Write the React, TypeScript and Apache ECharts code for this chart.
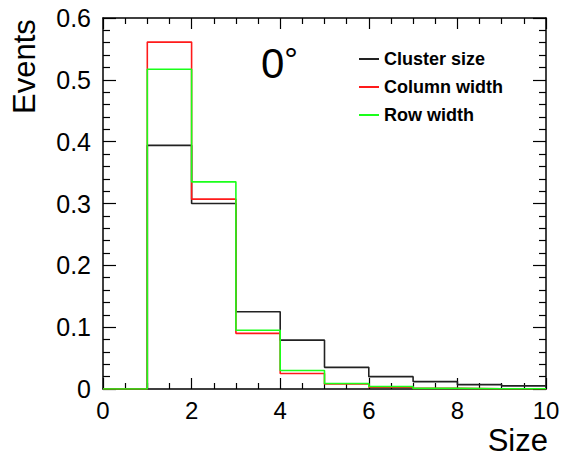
import React, { useEffect, useRef } from "react";
import * as echarts from "echarts";

// Bin edges (size) and normalised event fractions per bin
const binEdges = [0, 1, 2, 3, 4, 5, 6, 7, 8, 9, 10];
const clusterSize = [0, 0.394, 0.3, 0.125, 0.079, 0.035, 0.02, 0.012, 0.007, 0.005];
const columnWidth = [0, 0.561, 0.307, 0.09, 0.025, 0.008, 0.003, 0.001, 0.0005, 0.0003];
const rowWidth = [0, 0.517, 0.335, 0.095, 0.03, 0.009, 0.004, 0.001, 0.0005, 0.0003];

const seriesNames = ["Cluster size", "Column width", "Row width"];
const seriesColors = ["#222222", "#ff1a1a", "#1aff1a"];

const FONT = "Liberation Sans, Arial, Helvetica, sans-serif";

// Histogram outline: one point per bin low edge, plus the final upper edge
function toSteps(values: number[]): [number, number][] {
  const pts: [number, number][] = values.map((v, i) => [binEdges[i], v]);
  pts.push([binEdges[binEdges.length - 1], values[values.length - 1]]);
  return pts;
}

export default function App() {
  const ref = useRef<HTMLDivElement>(null);

  useEffect(() => {
    if (!ref.current) return;
    const chart = echarts.init(ref.current, undefined, { renderer: "svg" });

    const axisLine = { show: true, onZero: false, lineStyle: { color: "#000", width: 1.5 } };
    const xBase = {
      type: "value" as const,
      min: 0,
      max: 10,
      interval: 2,
      axisLine,
      splitLine: { show: false },
      axisTick: { show: true, inside: true, length: 11, lineStyle: { color: "#000", width: 1.2 } },
      minorTick: { show: true, splitNumber: 4, length: 6, lineStyle: { color: "#000", width: 1.2 } },
    };
    const yBase = {
      type: "value" as const,
      min: 0,
      max: 0.6,
      interval: 0.1,
      axisLine,
      splitLine: { show: false },
      axisTick: { show: true, inside: true, length: 13, lineStyle: { color: "#000", width: 1.2 } },
      minorTick: { show: true, splitNumber: 5, length: 7, lineStyle: { color: "#000", width: 1.2 } },
    };

    const data = [clusterSize, columnWidth, rowWidth];

    chart.setOption({
      animation: false,
      textStyle: { fontFamily: FONT },
      grid: { left: 103, right: 18, top: 18, bottom: 73 },
      xAxis: [
        {
          ...xBase,
          position: "bottom",
          axisLabel: {
            show: true,
            margin: 9,
            fontSize: 24,
            color: "#000",
            fontFamily: FONT,
            formatter: (v: number) => String(Math.round(v)),
          },
        },
        { ...xBase, position: "top", axisLabel: { show: false } },
      ],
      yAxis: [
        {
          ...yBase,
          position: "left",
          axisLabel: {
            show: true,
            margin: 12,
            fontSize: 25,
            color: "#000",
            fontFamily: FONT,
            formatter: (v: number) => (Math.abs(v) < 1e-9 ? "0" : v.toFixed(1)),
          },
        },
        { ...yBase, position: "right", axisLabel: { show: false } },
      ],
      legend: {
        orient: "vertical",
        left: 359,
        top: 50,
        padding: 0,
        itemWidth: 20,
        itemHeight: 2,
        itemGap: 10,
        icon: "rect",
        data: seriesNames,
        textStyle: { fontSize: 18, fontWeight: "bold", color: "#000", fontFamily: FONT },
      },
      series: data.map((vals, i) => ({
        name: seriesNames[i],
        type: "line",
        step: "end",
        data: toSteps(vals),
        showSymbol: false,
        symbol: "none",
        lineStyle: { color: seriesColors[i], width: 1.6 },
        itemStyle: { color: seriesColors[i] },
        xAxisIndex: 0,
        yAxisIndex: 0,
        z: 2 + i,
      })),
      graphic: [
        {
          type: "text",
          rotation: Math.PI / 2,
          x: 9,
          y: 114,
          style: { text: "Events", fontSize: 31, fontFamily: FONT, fill: "#000" },
        },
        {
          type: "text",
          right: 16,
          top: 425,
          style: { text: "Size", fontSize: 31, fontFamily: FONT, fill: "#000" },
        },
        {
          type: "text",
          left: 261,
          top: 42,
          style: {
            text: "0{d|°}",
            fontSize: 42,
            fontFamily: FONT,
            fill: "#000",
            rich: { d: { fontSize: 34, fontFamily: FONT, fill: "#000", verticalAlign: "top" } },
          },
        },
      ],
    });

    return () => chart.dispose();
  }, []);

  return (
    <div
      ref={ref}
      style={{ position: "fixed", left: 0, top: 0, width: 564, height: 462, background: "#fff" }}
    />
  );
}
